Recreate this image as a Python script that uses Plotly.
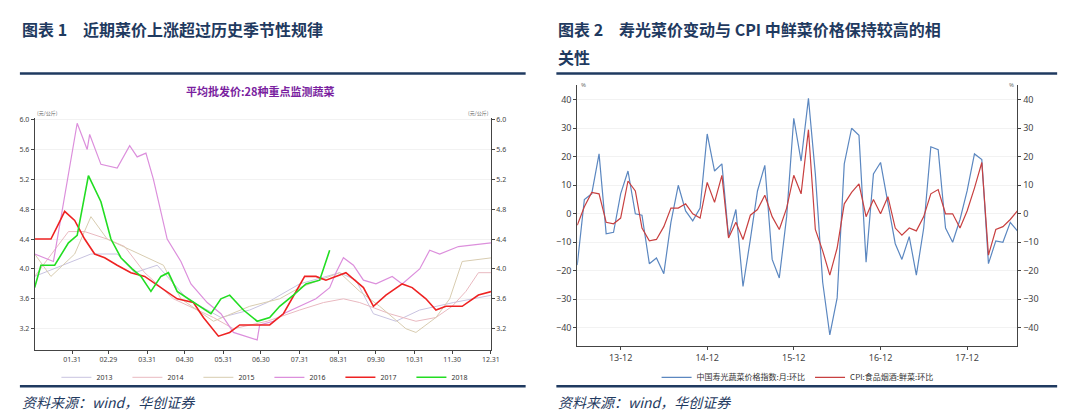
import plotly.graph_objects as go
import pandas as pd

# ---- left chart: average wholesale price, 28 vegetables (yuan/kg), day of year
d2013 = [0, 45, 66, 80, 98, 122, 149, 172, 186, 212, 244, 257, 271, 289, 308, 335, 366]
v2013 = [3.9, 4.2, 4.2, 3.95, 4.05, 3.6, 3.35, 3.45, 3.55, 3.8, 3.95, 3.85, 3.4, 3.3, 3.45, 3.55, 3.65]
d2014 = [0, 27, 40, 58, 72, 88, 111, 143, 159, 186, 212, 231, 247, 260, 284, 305, 321, 334, 345, 355, 366]
v2014 = [3.9, 4.5, 4.5, 4.4, 4.3, 3.95, 3.6, 3.35, 3.2, 3.3, 3.45, 3.55, 3.6, 3.55, 3.4, 3.3, 3.35, 3.5, 3.7, 3.95, 3.95]
d2015 = [0, 13, 32, 45, 58, 103, 117, 143, 172, 196, 212, 228, 244, 260, 276, 297, 305, 321, 332, 342, 366]
v2015 = [4.2, 3.9, 4.2, 4.7, 4.4, 4.05, 3.6, 3.3, 3.5, 3.6, 3.75, 3.85, 3.95, 3.7, 3.5, 3.2, 3.15, 3.35, 3.6, 4.1, 4.15]
d2016 = [0, 15, 34, 42, 44, 53, 66, 76, 82, 89, 95, 106, 117, 125, 138, 149, 159, 178, 180, 191, 199,
         212, 225, 236, 241, 247, 255, 263, 273, 286, 294, 308, 316, 324, 339, 366]
v2016 = [4.2, 4.1, 5.95, 5.6, 5.8, 5.4, 5.35, 5.65, 5.5, 5.55, 5.2, 4.4, 4.1, 3.8, 3.55, 3.4, 3.15, 3.05, 3.25, 3.3, 3.4,
         3.5, 3.6, 3.75, 3.95, 4.15, 4.05, 3.85, 3.8, 3.9, 3.8, 4.0, 4.25, 4.2, 4.3, 4.35]
d2017 = [0, 13, 19, 24, 32, 40, 48, 56, 66, 77, 88, 101, 114, 127, 135, 147, 156, 164, 175, 188, 199,
         209, 216, 225, 233, 249, 263, 271, 281, 294, 302, 313, 321, 329, 342, 355, 366]
v2017 = [4.4, 4.4, 4.6, 4.77, 4.65, 4.4, 4.2, 4.15, 4.05, 3.95, 3.9, 3.75, 3.6, 3.55, 3.35, 3.1, 3.15, 3.25, 3.25, 3.25, 3.4,
         3.7, 3.9, 3.9, 3.85, 3.95, 3.75, 3.5, 3.65, 3.8, 3.75, 3.6, 3.45, 3.5, 3.5, 3.65, 3.7]
d2018 = [0, 5, 16, 27, 34, 43, 53, 61, 69, 78, 85, 93, 101, 107, 114, 127, 141, 149, 156, 167, 178, 188, 196, 207, 217, 228, 236]
v2018 = [3.75, 4.05, 4.05, 4.35, 4.45, 5.25, 4.9, 4.4, 4.15, 4.0, 3.9, 3.7, 3.9, 3.95, 3.7, 3.55, 3.4, 3.6, 3.65, 3.45, 3.3,
         3.35, 3.5, 3.65, 3.8, 3.85, 4.25]
left_ticks = ["01.31", "02.29", "03.31", "04.30", "05.31", "06.30", "07.31", "08.31", "09.30", "10.31", "11.30", "12.31"]

# ---- right chart: monthly % change, 2013-06 .. 2018-07
months = pd.date_range("2013-06-01", periods=62, freq="MS")
shouguang = [-18, 5, 7, 21, -7, -6.5, 7, 15, 0, -0.5, -17.5, -15.5, -21, -3, 10, 1, -2.5, 2, 28, 15, 17.5, -8, 1.5,
             -25.5, -9, 8, 17, -16, -22.5, -1, 33.5, 18.5, 40.5, 14, -24, -42.5, -29.5, 17.5, 30, 27.5, -17, 14, 18,
             3, -10.5, -16, -8, -21.5, -5, 23.5, 22.5, -5, -10, -2, 8, 21, 19, -17.5, -9.5, -10, -3, -6]
cpi_veg = [-4, 2.5, 7.5, 7, -3, -3.5, -1.5, 11.5, 8, -5, -9.5, -9, -4.5, 2, 2, 3.5, 0, -1.5, 11, 4, 13.5, -8.5, -3,
           -9, -0.5, 1.5, 6.5, -1, -5.5, 2, 13.5, 7, 29.5, -5.5, -13, -21.5, -12, 3.5, 7.5, 10.5, -1, 5, 0, 6, -5,
           -7.5, -5, -6, -1, 7, 8.5, 0, 0, -5, 1, 9, 18, -14.5, -5.5, -4.5, -2, 1]

base = pd.Timestamp("2016-01-01")
def dates(days):
    return [base + pd.Timedelta(days=d) for d in days]

fig = go.Figure()
series = [("2013", d2013, v2013, "#c8c3e0", 1), ("2014", d2014, v2014, "#e9b9c0", 1),
          ("2015", d2015, v2015, "#d8ccb0", 1), ("2016", d2016, v2016, "#dc8fdc", 1.2),
          ("2017", d2017, v2017, "#ee2222", 1.6), ("2018", d2018, v2018, "#22dd22", 1.6)]
for name, d, v, c, w in series:
    fig.add_trace(go.Scatter(x=dates(d), y=v, name=name, mode="lines", line=dict(color=c, width=w),
                             xaxis="x", yaxis="y", legend="legend"))
fig.add_trace(go.Scatter(x=months, y=shouguang, name="中国寿光蔬菜价格指数:月:环比", mode="lines",
                         line=dict(color="#5b87c0", width=1.2), xaxis="x2", yaxis="y2", legend="legend2"))
fig.add_trace(go.Scatter(x=months, y=cpi_veg, name="CPI:食品烟酒:鲜菜:环比", mode="lines",
                         line=dict(color="#c84040", width=1.2), xaxis="x2", yaxis="y3", legend="legend2"))
# invisible helper for left chart right-side axis
fig.add_trace(go.Scatter(x=dates(d2017), y=v2017, mode="lines", line=dict(width=0), showlegend=False,
                         hoverinfo="skip", xaxis="x", yaxis="y4"))

ax = dict(showgrid=False, showline=True, linecolor="#444", ticks="outside", ticklen=3, tickcolor="#444",
          tickfont=dict(size=7, color="#444", family="Noto Sans"), zeroline=False)
lyg = dict(ax, range=[2.92, 6.02], dtick=0.4, tickformat=".1f", showgrid=True, gridcolor="#f2f2f2")
ryg = dict(ax, range=[-46.5, 45], dtick=10, showgrid=True, gridcolor="#f2f2f2",
           tickfont=dict(size=9, color="#444", family="Noto Sans"))
tickdates = [pd.Timestamp("2016-" + t.replace(".", "-")) for t in left_ticks]

fig.update_layout(
    width=1076, height=410, margin=dict(l=0, r=0, t=0, b=0), plot_bgcolor="white", paper_bgcolor="white",
    xaxis=dict(ax, domain=[0.025, 0.4526], anchor="y", range=[base, pd.Timestamp("2016-12-31")],
               tickvals=tickdates, ticktext=left_ticks),
    yaxis=dict(lyg, domain=[0.168, 0.737], anchor="x"),
    yaxis4=dict(lyg, overlaying="y", side="right", anchor="x", showgrid=False),
    xaxis2=dict(ax, domain=[0.5335, 0.946], anchor="y2", range=[months[0], months[-1]],
                tickvals=pd.date_range("2013-12-01", periods=5, freq="12MS"),
                ticktext=["13-12", "14-12", "15-12", "16-12", "17-12"],
                tickfont=dict(size=9, color="#444", family="Noto Sans")),
    yaxis2=dict(ryg, domain=[0.176, 0.817], anchor="x2"),
    yaxis3=dict(ryg, overlaying="y2", side="right", anchor="x2", showgrid=False),
    legend=dict(orientation="h", x=0.245, y=0.1, xanchor="center", yanchor="middle", itemwidth=30,
                entrywidth=26, entrywidthmode="pixels", tracegroupgap=0,
                font=dict(size=7, color="#333", family="Noto Sans"), bgcolor="rgba(0,0,0,0)"),
    legend2=dict(orientation="h", x=0.74, y=0.1, xanchor="center", yanchor="middle",
                 font=dict(size=8, color="#333", family="Noto Sans CJK SC"), bgcolor="rgba(0,0,0,0)"),
    showlegend=True,
)

navy = "#1f3a60"
for x0, x1 in [(12, 522), (553, 1058)]:
    for y in (63, 378):
        fig.add_shape(type="line", xref="paper", yref="paper", x0=x0 / 1076, x1=x1 / 1076,
                      y0=1 - y / 410, y1=1 - y / 410, line=dict(color=navy, width=2.5))

tf = dict(family="Noto Sans CJK SC", size=16, color=navy)
def note(text, x, y, font, xanchor="left"):
    fig.add_annotation(text=text, xref="paper", yref="paper", x=x / 1076, y=1 - y / 410,
                       xanchor=xanchor, yanchor="middle", showarrow=False, font=font)

note("<b>图表 1　近期菜价上涨超过历史季节性规律</b>", 12, 18, tf)
note("<b>图表 2　寿光菜价变动与 CPI 中鲜菜价格保持较高的相</b>", 553, 18, tf)
note("<b>关性</b>", 553, 46, tf)
note("<b>平均批发价:28种重点监测蔬菜</b>", 255, 81, dict(family="Noto Sans CJK SC", size=11, color="#7a1fa0"), "center")
note("(元/公斤)", 27, 103, dict(family="Noto Sans CJK SC", size=5, color="#666"))
note("(元/公斤)", 487, 103, dict(family="Noto Sans CJK SC", size=5, color="#666"), "right")
note("%", 576, 75, dict(size=6, color="#666"))
note("%", 1016, 75, dict(size=6, color="#666"), "right")
ff = dict(family="Noto Sans CJK SC", size=14, color=navy)
note("<i>资料来源：wind，华创证券</i>", 12, 394, ff)
note("<i>资料来源：wind，华创证券</i>", 553, 394, ff)

fig.write_html("out.html")
